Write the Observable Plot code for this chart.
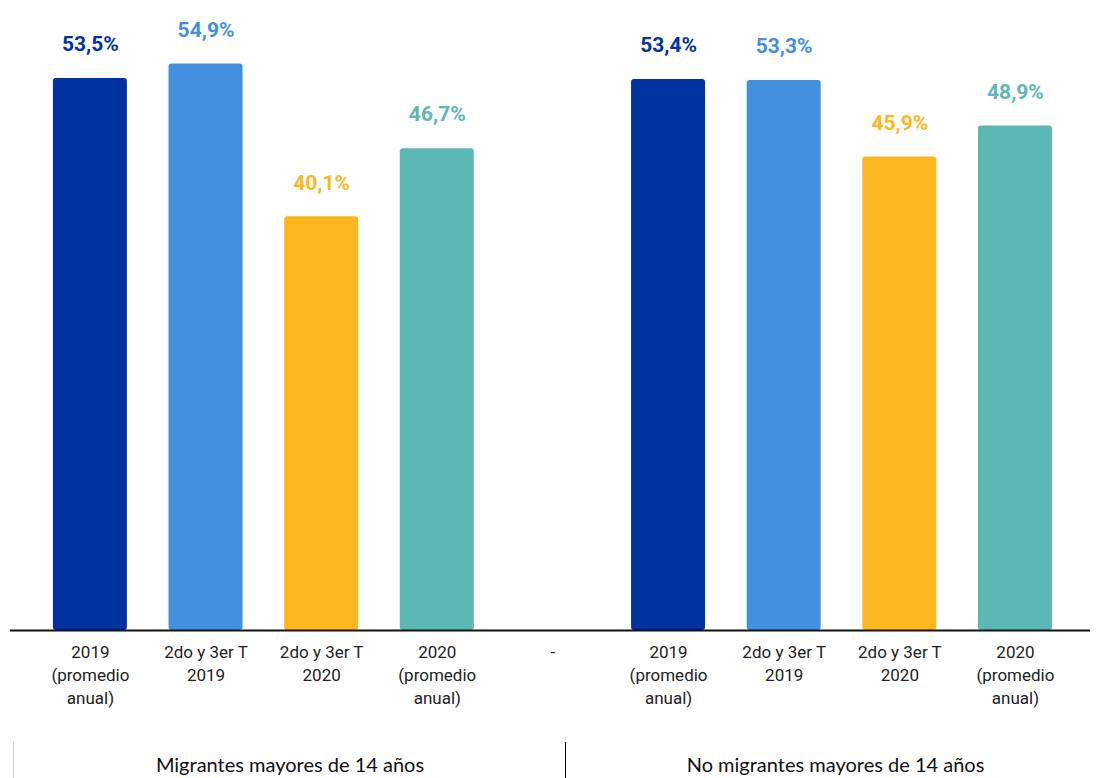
<!DOCTYPE html>
<html><head><meta charset="utf-8">
<script src="https://cdn.jsdelivr.net/npm/d3@7"></script>
<script src="https://cdn.jsdelivr.net/npm/@observablehq/plot@0.6"></script>
<style>
body{margin:0;background:#fff;width:1097px;height:778px;overflow:hidden;position:relative;font-family:Roboto,sans-serif}
#chart{position:absolute;top:0;left:0}
.g{position:absolute;top:742px;height:36px;font-family:Lato,sans-serif;font-size:20px;color:#111;text-align:center;line-height:22px;padding-top:11px;box-sizing:border-box}
</style>
</head><body>
<div id="chart"></div>
<div class="g" style="left:13px;width:553px;border-left:1.5px solid #d0d0d0">Migrantes mayores de 14 años</div>
<div class="g" style="left:565px;width:540px;border-left:1.5px solid #000">No migrantes mayores de 14 años</div>
<script>
const categories = ["m1","m2","m3","m4","sep","n1","n2","n3","n4"];
const tickLabels = ["2019\n(promedio\nanual)","2do y 3er T\n2019","2do y 3er T\n2020","2020\n(promedio\nanual)","-","2019\n(promedio\nanual)","2do y 3er T\n2019","2do y 3er T\n2020","2020\n(promedio\nanual)"];
const values = [53.5, 54.9, 40.1, 46.7, null, 53.4, 53.3, 45.9, 48.9];
const colors = ["#0033A0","#428FE0","#FDB71E","#5BB8B2",null,"#0033A0","#428FE0","#FDB71E","#5BB8B2"];

const data = categories.map((c,i)=>({cat:c, value:values[i], color:colors[i]})).filter(d=>d.value!=null);
const labelOf = new Map(categories.map((c,i)=>[c,tickLabels[i]]));

const chart = Plot.plot({
  width:1097, height:725,
  marginTop:11, marginBottom:95, marginLeft:10, marginRight:7,
  style:{fontFamily:"Roboto, sans-serif", fontSize:"17px", color:"#222", background:"#fff"},
  x:{domain:categories, paddingInner:0.36, paddingOuter:0.35, align:0.53, round:false, axis:null},
  y:{domain:[0,60], axis:null},
  marks:[
    Plot.barY(data,{x:"cat", y:"value", fill:d=>d.color, rx:3}),
    Plot.ruleY([0],{stroke:"#111", strokeWidth:2}),
    Plot.text(data,{x:"cat", y:"value", text:d=>d.value.toFixed(1).replace(".",",")+"%", fill:d=>d.color, dy:-34, fontSize:21, fontWeight:"bold"}),
    Plot.axisX({tickSize:0, tickPadding:11, label:null, tickFormat:d=>labelOf.get(d), lineHeight:1.36, fontSize:17, fill:"#222"})
  ]
});
document.getElementById("chart").appendChild(chart);
</script>
</body></html>
